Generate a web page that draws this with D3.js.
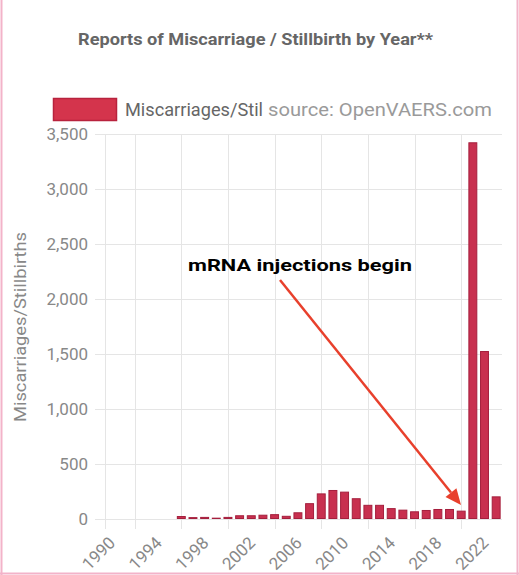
<!DOCTYPE html>
<html><head><meta charset="utf-8">
<script src="https://cdn.jsdelivr.net/npm/d3@7"></script>
<style>
html,body{margin:0;padding:0;background:#fff;}
text{font-family:Roboto,"Noto Sans",sans-serif;}
</style></head>
<body>
<svg id="chart" width="519" height="575"></svg>
<script>
const years = d3.range(1990, 2024);
const values = [0,0,0,0,0,0,18,8,10,3,10,25,25,30,35,20,52,135,224,255,240,180,120,120,90,76,61,73,82,82,67,3420,1520,197];
const yTicks = [0,500,1000,1500,2000,2500,3000,3500];
const xLabelYears = [1990,1994,1998,2002,2006,2010,2014,2018,2022];
const xGridYears = [1992,1996,2000,2004,2008,2012,2016,2020];

const svg = d3.select("#chart");
const x = d3.scaleBand().domain(years).range([105.5, 502]).paddingInner(0.32).paddingOuter(0.16);
const y = d3.scaleLinear().domain([0, 3500]).range([518.5, 134]);
const cx = d => x(d) + x.bandwidth()/2;

// frame
svg.append("line").attr("x1",1.5).attr("x2",1.5).attr("y1",0).attr("y2",575).attr("stroke","#f3b3c9").attr("stroke-width",2);
svg.append("line").attr("x1",517.5).attr("x2",517.5).attr("y1",0).attr("y2",575).attr("stroke","#f3b3c9").attr("stroke-width",2);
svg.append("line").attr("x1",0).attr("x2",519).attr("y1",573.5).attr("y2",573.5).attr("stroke","#f3b3c9").attr("stroke-width",2);

// title
svg.append("text").attr("x",78).attr("y",45)
  .attr("font-size",17).attr("font-weight","bold").attr("fill","#666")
  .attr("textLength",355).attr("lengthAdjust","spacingAndGlyphs")
  .text("Reports of Miscarriage / Stillbirth by Year**");

// legend
svg.append("rect").attr("x",53.5).attr("y",98.5).attr("width",63).attr("height",22)
  .attr("fill","#d4344c").attr("stroke","#b8223d").attr("stroke-width",1.5);
svg.append("text").attr("x",125).attr("y",116).attr("font-size",18).attr("fill","#666")
  .attr("textLength",138).attr("lengthAdjust","spacingAndGlyphs").text("Miscarriages/Stil");
svg.append("text").attr("x",268).attr("y",116).attr("font-size",18).attr("fill","#9a9a9a")
  .attr("textLength",224).attr("lengthAdjust","spacingAndGlyphs").text("source: OpenVAERS.com");

// horizontal grid + y ticks
const gy = svg.append("g");
gy.selectAll("line").data(yTicks).join("line")
  .attr("x1",95).attr("x2",502).attr("y1",d=>Math.round(y(d))+0.5).attr("y2",d=>Math.round(y(d))+0.5)
  .attr("stroke","#e5e5e5").attr("stroke-width",1);
gy.selectAll("text").data(yTicks).join("text")
  .attr("x",88).attr("y",d=>y(d)+6).attr("text-anchor","end")
  .attr("font-size",17).attr("fill","#888").text(d=>d3.format(",")(d));

// vertical grid
svg.append("line").attr("x1",105.5).attr("x2",105.5).attr("y1",134).attr("y2",529).attr("stroke","#e5e5e5");
svg.selectAll(".vg").data(xGridYears).join("line").attr("class","vg")
  .attr("x1",d=>Math.round(cx(d))+0.5).attr("x2",d=>Math.round(cx(d))+0.5)
  .attr("y1",134).attr("y2",529).attr("stroke","#e5e5e5");

// x labels
svg.selectAll(".xl").data(xLabelYears).join("text").attr("class","xl")
  .attr("transform",d=>`translate(${cx(d)-4},${535}) rotate(-45)`)
  .attr("text-anchor","end").attr("dy","0.75em")
  .attr("font-size",17).attr("fill","#888").text(d=>d);

// y axis title
svg.append("text").attr("transform","translate(26,327) rotate(-90)")
  .attr("text-anchor","middle").attr("font-size",17).attr("fill","#888")
  .attr("textLength",190).attr("lengthAdjust","spacingAndGlyphs")
  .text("Miscarriages/Stillbirths");

// bars
svg.selectAll(".bar").data(years.map((yr,i)=>({yr, v: values[i]})).filter(d=>d.v>0)).join("rect").attr("class","bar")
  .attr("x",d=>x(d.yr)).attr("width",x.bandwidth())
  .attr("y",d=>y(d.v)).attr("height",d=>y(0)-y(d.v))
  .attr("fill","#c8304f").attr("stroke","#a51f3d").attr("stroke-width",1);

// annotation
svg.append("text").attr("x",188).attr("y",271).attr("font-family","'Liberation Sans',Arial,sans-serif")
  .attr("font-size",17).attr("font-weight","bold").attr("fill","#000")
  .attr("textLength",224).attr("lengthAdjust","spacingAndGlyphs").text("mRNA injections begin");

const ax1 = 280, ay1 = 280, ax2 = 461, ay2 = 505;
const ang = Math.atan2(ay2-ay1, ax2-ax1);
const hl = 16, hw = 7;
const bx = ax2 - hl*Math.cos(ang), by = ay2 - hl*Math.sin(ang);
svg.append("line").attr("x1",ax1).attr("y1",ay1).attr("x2",bx).attr("y2",by)
  .attr("stroke","#e8402c").attr("stroke-width",2.5);
svg.append("path").attr("d",`M${ax2},${ay2} L${bx + hw*Math.sin(ang)},${by - hw*Math.cos(ang)} L${bx - hw*Math.sin(ang)},${by + hw*Math.cos(ang)} Z`)
  .attr("fill","#e8402c");
</script>
</body></html>
